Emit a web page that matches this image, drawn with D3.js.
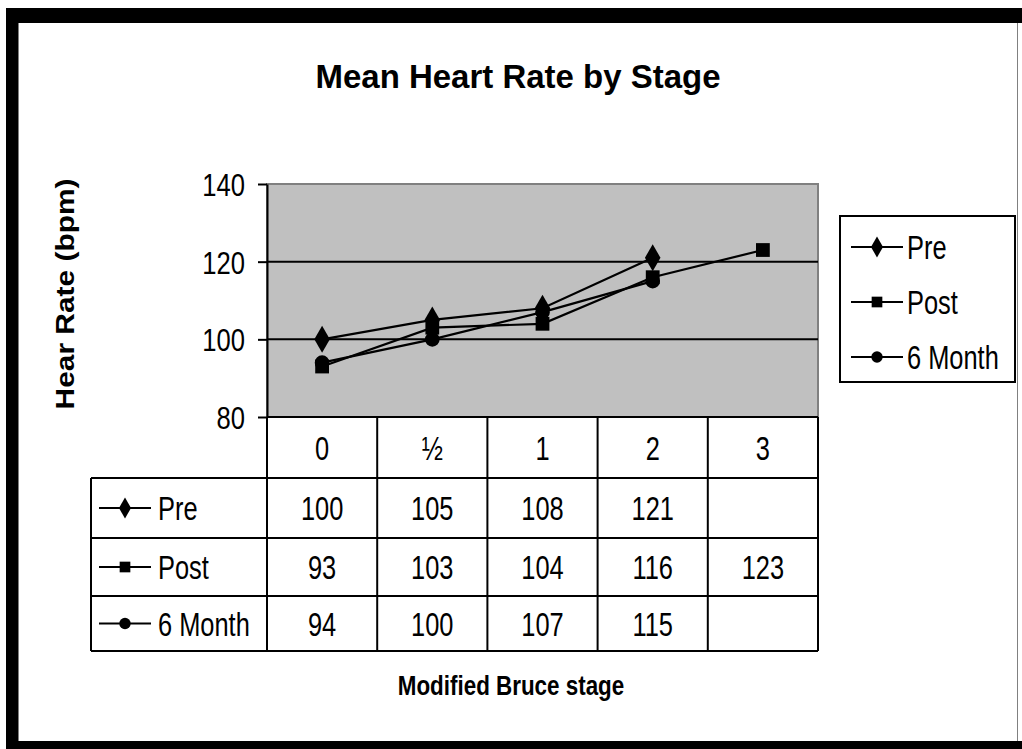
<!DOCTYPE html>
<html>
<head>
<meta charset="utf-8">
<script src="https://cdn.jsdelivr.net/npm/d3@7"></script>
<style>
  body { margin: 0; background: #fff; }
  text { font-family: "Liberation Sans", Arial, sans-serif; fill: #000; }
</style>
</head>
<body>
<div id="chart"></div>
<script>
// data
var stages = ["0", "½", "1", "2", "3"];
var seriesNames = ["Pre", "Post", "6 Month"];
var preValues = [100, 105, 108, 121, null];
var postValues = [93, 103, 104, 116, 123];
var sixMonthValues = [94, 100, 107, 115, null];
var yTicks = [80, 100, 120, 140];

var width = 1022, height = 749;
var plot = {left: 267, right: 818, top: 184, bottom: 417};
var rowEdges = [417, 478, 538, 596, 651];
var tableLeft = 91;

var series = [
  {name: seriesNames[0], values: preValues, symbol: d3.symbolDiamond, size: 210},
  {name: seriesNames[1], values: postValues, symbol: d3.symbolSquare, size: 190},
  {name: seriesNames[2], values: sixMonthValues, symbol: d3.symbolCircle, size: 170}
];

var svg = d3.select("#chart").append("svg")
  .attr("width", width).attr("height", height);

// frame
svg.append("rect").attr("x", 6).attr("y", 8).attr("width", 1016).attr("height", 741).attr("fill", "#000");
svg.append("rect").attr("x", 18).attr("y", 23).attr("width", 1004).attr("height", 718).attr("fill", "#fff");
svg.append("line").attr("x1", 18.5).attr("x2", 18.5).attr("y1", 23).attr("y2", 741).attr("stroke", "#808080");
svg.append("line").attr("x1", 1017.5).attr("x2", 1017.5).attr("y1", 23).attr("y2", 741).attr("stroke", "#808080");

// text helper: condensed / stretched glyphs via horizontal scale
function label(g, x, y, s, size, sx, anchor, bold) {
  return g.append("text")
    .attr("transform", "translate(" + [x, y] + ") scale(" + sx + ",1)")
    .attr("text-anchor", anchor || "middle")
    .style("font-size", size + "px")
    .style("font-weight", bold ? "bold" : "normal")
    .text(s);
}

var x = d3.scaleBand().domain(stages).range([plot.left, plot.right]);
var y = d3.scaleLinear().domain([80, 140]).range([plot.bottom, plot.top]);

// plot area
svg.append("rect")
  .attr("x", plot.left).attr("y", plot.top)
  .attr("width", plot.right - plot.left).attr("height", plot.bottom - plot.top)
  .attr("fill", "#c0c0c0").attr("stroke", "#808080").attr("stroke-width", 2);

svg.selectAll(".grid").data(yTicks.filter(function(d){ return d > 80 && d < 140; }))
  .enter().append("line")
  .attr("x1", plot.left).attr("x2", plot.right)
  .attr("y1", function(d){ return y(d); }).attr("y2", function(d){ return y(d); })
  .attr("stroke", "#000").attr("stroke-width", 2);

// y axis
var yAxis = svg.append("g")
  .attr("transform", "translate(" + plot.left + ",0)")
  .call(d3.axisLeft(y).tickValues(yTicks).tickSize(9).tickSizeOuter(0));
yAxis.select(".domain").attr("stroke", "#000").attr("stroke-width", 2);
yAxis.selectAll(".tick line").attr("stroke", "#000").attr("stroke-width", 2);
yAxis.selectAll(".tick text").remove();
yTicks.forEach(function(t){
  label(svg, 245, y(t) + 12, String(t), 32, 0.8, "end");
});

// lines and markers
var line = d3.line()
  .defined(function(d){ return d.v != null; })
  .x(function(d){ return x(d.s) + x.bandwidth() / 2; })
  .y(function(d){ return y(d.v); });

series.forEach(function(se){
  var pts = stages.map(function(s, i){ return {s: s, v: se.values[i]}; });
  svg.append("path").datum(pts)
    .attr("d", line).attr("fill", "none")
    .attr("stroke", "#000").attr("stroke-width", 2.2);
  svg.selectAll(null).data(pts.filter(function(d){ return d.v != null; }))
    .enter().append("path")
    .attr("d", d3.symbol().type(se.symbol).size(se.size))
    .attr("transform", function(d){ return "translate(" + [x(d.s) + x.bandwidth() / 2, y(d.v)] + ")"; })
    .attr("fill", "#000");
});

// data table
var tg = svg.append("g").attr("stroke", "#000").attr("stroke-width", 2);
tg.append("line").attr("x1", plot.left).attr("x2", plot.right).attr("y1", rowEdges[0]).attr("y2", rowEdges[0]);
rowEdges.slice(1).forEach(function(ry){
  tg.append("line").attr("x1", tableLeft).attr("x2", plot.right).attr("y1", ry).attr("y2", ry);
});
tg.append("line").attr("x1", tableLeft).attr("x2", tableLeft).attr("y1", rowEdges[1]).attr("y2", rowEdges[4]);
stages.forEach(function(s){
  tg.append("line").attr("x1", x(s)).attr("x2", x(s)).attr("y1", rowEdges[0]).attr("y2", rowEdges[4]);
});
tg.append("line").attr("x1", plot.right).attr("x2", plot.right).attr("y1", rowEdges[0]).attr("y2", rowEdges[4]);

stages.forEach(function(s){
  label(svg, x(s) + x.bandwidth() / 2, (rowEdges[0] + rowEdges[1]) / 2 + 12, s, 33, 0.77);
});

function legendKey(g, cx, cy, se) {
  g.append("line").attr("x1", cx - 26).attr("x2", cx + 26).attr("y1", cy).attr("y2", cy)
    .attr("stroke", "#000").attr("stroke-width", 2);
  g.append("path").attr("d", d3.symbol().type(se.symbol).size(se.size * 0.6))
    .attr("transform", "translate(" + [cx, cy] + ")").attr("fill", "#000");
}

series.forEach(function(se, r){
  var cy = (rowEdges[r + 1] + rowEdges[r + 2]) / 2;
  legendKey(svg, 125, cy, se);
  label(svg, 158, cy + 12, se.name, 33, 0.77, "start");
  se.values.forEach(function(v, i){
    if (v == null) return;
    label(svg, x(stages[i]) + x.bandwidth() / 2, cy + 12, String(v), 33, 0.77);
  });
});

// legend
var lg = svg.append("g");
lg.append("rect").attr("x", 840).attr("y", 216).attr("width", 175).attr("height", 166)
  .attr("fill", "#fff").attr("stroke", "#000").attr("stroke-width", 2);
series.forEach(function(se, i){
  var cy = 247 + i * 55;
  legendKey(lg, 877, cy, se);
  label(lg, 907, cy + 12, se.name, 33, 0.77, "start");
});

// titles
label(svg, 518, 88, "Mean Heart Rate by Stage", 34, 0.97, "middle", true);
label(svg, 511, 695, "Modified Bruce stage", 28, 0.8, "middle", true);
svg.append("text")
  .attr("transform", "translate(74,294) rotate(-90) scale(1.15,1)")
  .attr("text-anchor", "middle")
  .style("font-size", "26px").style("font-weight", "bold")
  .text("Hear Rate (bpm)");
</script>
</body>
</html>
